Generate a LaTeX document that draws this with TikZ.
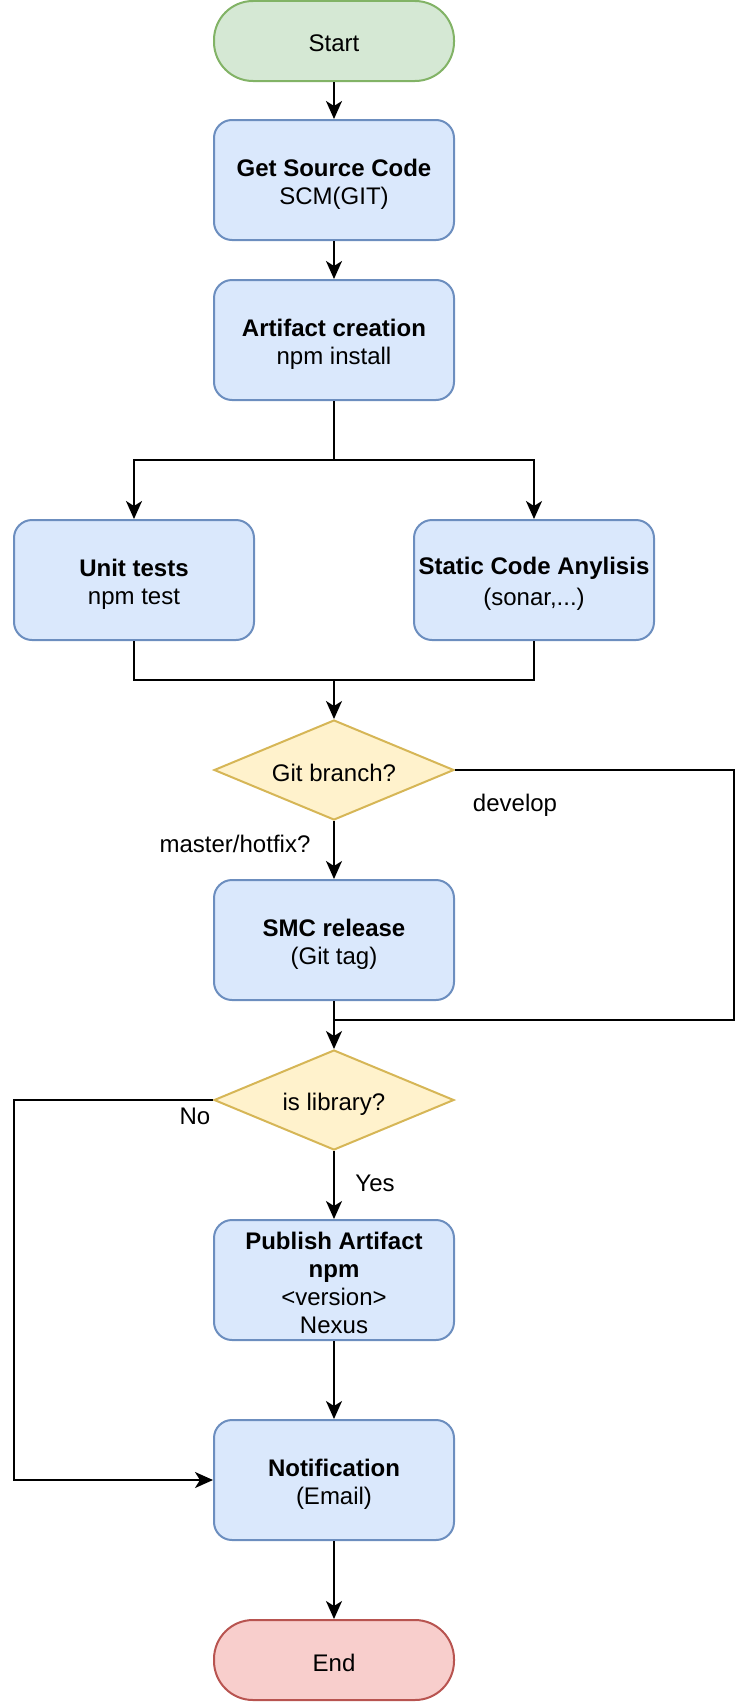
\documentclass[tikz,border=0pt]{standalone}
\usepackage{fontspec}
\setmainfont{Liberation Sans}
\usetikzlibrary{shapes.geometric,arrows.meta}
\definecolor{gfill}{HTML}{D5E8D4}
\definecolor{gdraw}{HTML}{82B366}
\definecolor{bfill}{HTML}{DAE8FC}
\definecolor{bdraw}{HTML}{6C8EBF}
\definecolor{yfill}{HTML}{FFF2CC}
\definecolor{ydraw}{HTML}{D6B656}
\definecolor{rfill}{HTML}{F8CECC}
\definecolor{rdraw}{HTML}{B85450}
\newcommand\ls{\rule[-3pt]{0pt}{28pt}}
\begin{document}
\begin{tikzpicture}[x=1pt,y=-1pt,
  every node/.style={font=\fontsize{24}{28}\selectfont},
  box/.style={draw=bdraw, fill=bfill, line width=2pt, rounded corners=18pt,
    minimum width=240pt, minimum height=120pt, inner sep=2pt, align=center},
  term/.style={line width=2pt, rounded corners=39pt,
    minimum width=240pt, minimum height=80pt, inner sep=2pt, align=center},
  decision/.style={diamond, draw=ydraw, fill=yfill, line width=2pt, aspect=2.4,
    minimum width=240pt, minimum height=100pt, inner sep=0pt, align=center},
  line/.style={line width=2pt, black},
  arr/.style={line, -{Stealth[length=18pt,width=16pt,inset=5pt]}},
  lbl/.style={inner sep=0pt}
]
\useasboundingbox (0,0) rectangle (752,1702);

\node[term, fill=gfill, draw=gdraw] (start) at (334,41) {\ls Start};
\node[box] (gsc) at (334,180) {\ls\textbf{Get Source Code}\\SCM(GIT)\ls};
\node[box] (art) at (334,340) {\ls\textbf{Artifact creation}\\npm install\ls};
\node[box] (unit) at (134,580) {\ls\textbf{Unit tests}\\npm test\ls};
\node[box] (sca) at (534,580) {\ls\textbf{Static Code Anylisis}\\(sonar,...)\ls};
\node[decision] (git) at (334,770) {\ls Git branch?};
\node[box] (smc) at (334,940) {\ls\textbf{SMC release}\\(Git tag)\ls};
\node[decision] (lib) at (334,1100) {\ls is library?};
\node[box] (pub) at (334,1280) {\ls\textbf{Publish Artifact}\\\textbf{npm}\\<version>\\Nexus\ls};
\node[box] (notif) at (334,1480) {\ls\textbf{Notification}\\(Email)\ls};
\node[term, fill=rfill, draw=rdraw] (end) at (334,1660) {\ls End};

\coordinate (split) at (334,460);
\coordinate (merge) at (334,680);
\coordinate (dev1) at (734,770);
\coordinate (dev2) at (734,1020);
\coordinate (join) at (334,1020);
\coordinate (no1) at (14,1100);

\draw[arr] (start) -- (gsc);
\draw[arr] (gsc) -- (art);
\draw[line] (art.south) -- (split);
\draw[arr] (split) -| (unit.north);
\draw[arr] (split) -| (sca.north);
\draw[line] (unit.south) |- (merge);
\draw[line] (sca.south) |- (merge);
\draw[arr] (merge) -- (git.north);
\draw[line] (git.east) -- (dev1) -- (dev2) -- (join);
\draw[arr] (git.south) -- (smc.north);
\draw[line] (smc.south) -- (join);
\draw[arr] (join) -- (lib.north);
\draw[arr] (lib.south) -- (pub.north);
\draw[arr] (lib.west) -- (no1) |- (notif.west);
\draw[arr] (pub.south) -- (notif.north);
\draw[arr] (notif.south) -- (end.north);

\node[lbl] (ldev) at (515,805) {develop};
\node[lbl] (lmas) at (235,844) {master/hotfix?};
\node[lbl] (lno) at (195,1116) {No};
\node[lbl] (lyes) at (375,1183) {Yes};
\end{tikzpicture}
\end{document}
